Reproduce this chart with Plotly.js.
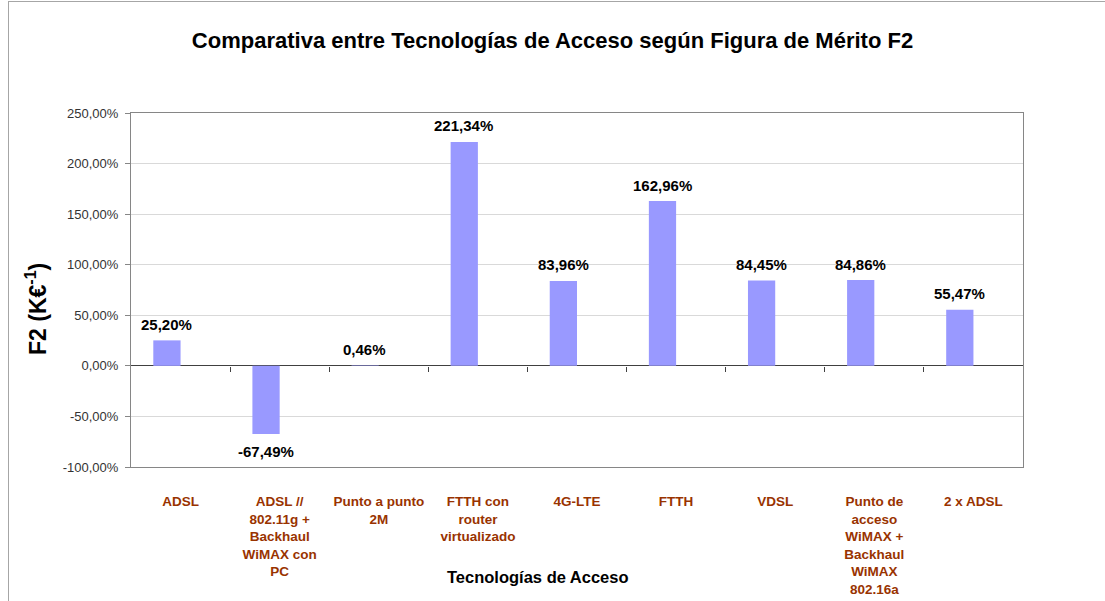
<!DOCTYPE html>
<html>
<head>
<meta charset="utf-8">
<script src="https://cdn.plot.ly/plotly-3.0.1.min.js"></script>
<style>
  html, body { margin: 0; padding: 0; background: #fff; }
  #wrap { position: relative; width: 1105px; height: 601px; }
  #chart { width: 1105px; height: 601px; }
  #frame { position: absolute; left: 8px; top: 1px; right: 0; bottom: 0;
           border-left: 1px solid #a6a6a6; border-top: 1px solid #a6a6a6; pointer-events: none; }
</style>
</head>
<body>
<div id="wrap"><div id="chart"></div><div id="frame"></div></div>
<script>
const categories = [
  'ADSL',
  'ADSL //<br>802.11g +<br>Backhaul<br>WiMAX con<br>PC',
  'Punto a punto<br>2M',
  'FTTH con<br>router<br>virtualizado',
  '4G-LTE',
  'FTTH',
  'VDSL',
  'Punto de<br>acceso<br>WiMAX +<br>Backhaul<br>WiMAX<br>802.16a',
  '2 x ADSL'
];
const f2Values = [25.20, -67.49, 0.46, 221.34, 83.96, 162.96, 84.45, 84.86, 55.47];
const yTickVals = [-100, -50, 0, 50, 100, 150, 200, 250];

const fmt = v => v.toFixed(2).replace('.', ',') + '%';

const bars = {
  type: 'bar',
  x: categories,
  y: f2Values,
  width: 0.275,
  offset: -0.275,
  marker: { color: '#9999FF', line: { width: 0 } },
  hoverinfo: 'x+y',
  showlegend: false
};

const tickHelper = {
  type: 'scatter', x: [], y: [], xaxis: 'x2', yaxis: 'y',
  hoverinfo: 'skip', showlegend: false
};

const valueLabels = categories.map((c, i) => ({
  x: c, y: f2Values[i], xref: 'x', yref: 'y',
  text: fmt(f2Values[i]),
  showarrow: false,
  xshift: -14,
  yshift: f2Values[i] >= 0 ? 16 : -17,
  yanchor: 'middle',
  font: { family: 'Liberation Sans, Arial, sans-serif', size: 15, color: '#000', weight: 'bold' }
}));

const layout = {
  width: 1105, height: 601,
  margin: { l: 131, r: 82, t: 113, b: 134 },
  paper_bgcolor: '#fff', plot_bgcolor: '#fff',
  separators: ',.',
  title: {
    text: 'Comparativa entre Tecnologías de Acceso según Figura de Mérito F2',
    xref: 'container', x: 0.5, xanchor: 'center',
    yref: 'container', y: 1 - 40 / 601, yanchor: 'middle',
    font: { family: 'Liberation Sans, Arial, sans-serif', size: 22, color: '#000', weight: 'bold' }
  },
  xaxis: {
    type: 'category',
    range: [-0.5, 8.5],
    showline: true, mirror: true, linecolor: '#868686', linewidth: 1,
    showgrid: false, zeroline: false,
    ticks: '',
    ticklabelstandoff: 22,
    tickangle: 0,
    tickfont: { family: 'Liberation Sans, Arial, sans-serif', size: 13.5, color: '#993300', weight: 'bold' }
  },
  xaxis2: {
    overlaying: 'x', anchor: 'free', position: 100 / 350, side: 'bottom',
    range: [-0.5, 8.5],
    tickvals: categories.slice(1).map((_, i) => i + 0.5),
    ticks: 'outside', ticklen: 5, tickcolor: '#404040', tickwidth: 1,
    showticklabels: false, showgrid: false, showline: false, zeroline: false
  },
  yaxis: {
    range: [-100, 250],
    tickvals: yTickVals,
    ticktext: yTickVals.map(fmt),
    showline: true, mirror: true, linecolor: '#868686', linewidth: 1,
    showgrid: true, gridcolor: '#d9d9d9', gridwidth: 1,
    zeroline: true, zerolinecolor: '#404040', zerolinewidth: 1,
    ticks: 'outside', ticklen: 5, tickcolor: '#868686',
    ticklabelstandoff: 4,
    tickfont: { family: 'Liberation Sans, Arial, sans-serif', size: 13, color: '#333' }
  },
  annotations: valueLabels.concat([
    {
      text: 'Tecnologías de Acceso', xref: 'paper', yref: 'paper',
      x: (537.5 - 131) / 892, y: (467 - 577) / 354, xanchor: 'center', yanchor: 'middle',
      showarrow: false,
      font: { family: 'Liberation Sans, Arial, sans-serif', size: 16.5, color: '#000', weight: 'bold' }
    },
    {
      text: 'F2 (K€<sup>-1</sup>)', xref: 'paper', yref: 'paper',
      x: (36 - 131) / 892, y: (467 - 309) / 354, xanchor: 'center', yanchor: 'middle',
      textangle: -90, showarrow: false,
      font: { family: 'Liberation Sans, Arial, sans-serif', size: 23, color: '#000', weight: 'bold' }
    }
  ])
};

Plotly.newPlot('chart', [bars, tickHelper], layout, { displayModeBar: false, staticPlot: true });
</script>
</body>
</html>
